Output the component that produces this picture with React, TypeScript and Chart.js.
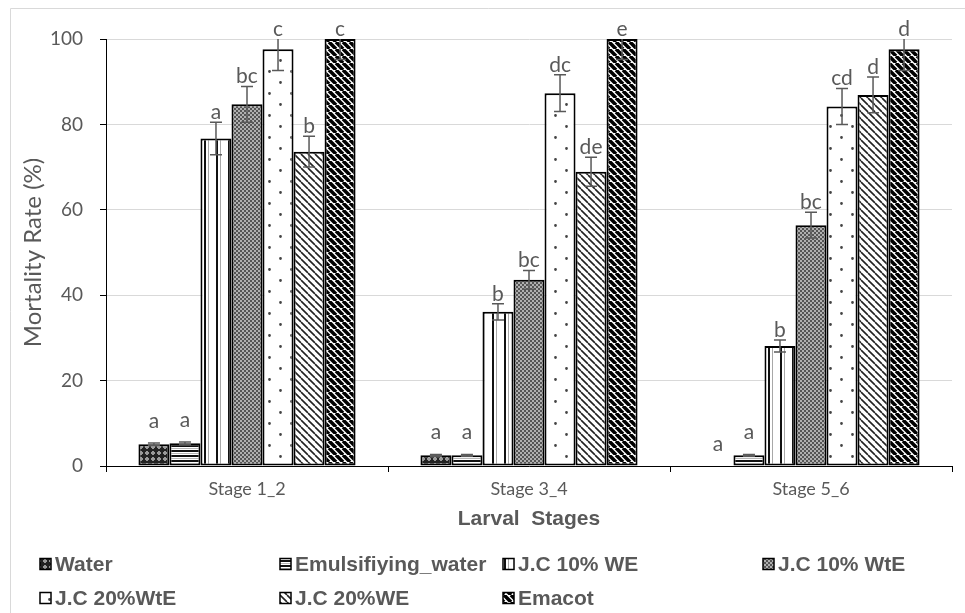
import React, { useEffect, useRef } from 'react';
import { Chart, registerables } from 'chart.js';
Chart.register(...registerables);

const categories = ['Stage 1_2', 'Stage 3_4', 'Stage 5_6'];
const seriesNames = ['Water', 'Emulsifiying_water', 'J.C 10% WE', 'J.C 10% WtE', 'J.C 20%WtE', 'J.C 20%WE', 'Emacot'];

const water = [5.1, 2.5, 0];
const emulsifying = [5.3, 2.5, 2.5];
const jc10WE = [76.7, 36.1, 28.1];
const jc10WtE = [84.7, 43.6, 56.4];
const jc20WtE = [97.6, 87.3, 84.2];
const jc20WE = [73.6, 68.9, 86.9];
const emacot = [100, 100, 97.6];

const waterErr = [0.3, 0.2, 0];
const emulsifyingErr = [0.3, 0.2, 0.2];
const jc10WEErr = [3.8, 1.9, 1.4];
const jc10WtEErr = [4.2, 2.2, 3.0];
const jc20WtEErr = [5.0, 4.3, 4.2];
const jc20WEErr = [3.6, 3.4, 4.2];
const emacotErr = [4.8, 4.8, 5.0];

const waterLetters = ['a', 'a', 'a'];
const emulsifyingLetters = ['a', 'a', 'a'];
const jc10WELetters = ['a', 'b', 'b'];
const jc10WtELetters = ['bc', 'bc', 'bc'];
const jc20WtELetters = ['c', 'dc', 'cd'];
const jc20WELetters = ['b', 'de', 'd'];
const emacotLetters = ['c', 'e', 'd'];

const yTicks = [0, 20, 40, 60, 80, 100];

const seriesValues = [water, emulsifying, jc10WE, jc10WtE, jc20WtE, jc20WE, emacot];
const seriesErrors = [waterErr, emulsifyingErr, jc10WEErr, jc10WtEErr, jc20WtEErr, jc20WEErr, emacotErr];
const seriesLetters = [waterLetters, emulsifyingLetters, jc10WELetters, jc10WtELetters, jc20WtELetters, jc20WELetters, emacotLetters];

const GRAY_TEXT = '#595959';

function tile(w: number, h: number, draw: (g: CanvasRenderingContext2D, w: number, h: number) => void): CanvasPattern {
  const c = document.createElement('canvas');
  c.width = w;
  c.height = h;
  const g = c.getContext('2d')!;
  draw(g, w, h);
  return g.createPattern(c, 'repeat')!;
}

function diagonal(s: number, lw: number, color: string) {
  return tile(s, s, (g) => {
    g.fillStyle = '#fff';
    g.fillRect(0, 0, s, s);
    g.strokeStyle = color;
    g.lineWidth = lw;
    g.beginPath();
    for (const k of [-1, 0, 1]) {
      g.moveTo(k * s, 0);
      g.lineTo(k * s + s, s);
    }
    g.stroke();
  });
}

function makePatterns(): CanvasPattern[] {
  const pWater = tile(6, 6, (g) => {
    g.fillStyle = '#222';
    g.fillRect(0, 0, 6, 6);
    g.fillStyle = '#9a9a9a';
    g.fillRect(2, 1, 2, 4);
    g.fillRect(1, 2, 4, 2);
  });
  const pEmul = tile(4, 5, (g) => {
    g.fillStyle = '#fff';
    g.fillRect(0, 0, 4, 5);
    g.fillStyle = '#111';
    g.fillRect(0, 0, 4, 2);
    g.fillStyle = '#b5b5b5';
    g.fillRect(0, 3, 4, 1);
  });
  const p10WE = tile(12, 4, (g) => {
    g.fillStyle = '#fff';
    g.fillRect(0, 0, 12, 4);
    g.fillStyle = '#111';
    g.fillRect(0, 0, 2, 4);
    g.fillStyle = '#a8a8a8';
    g.fillRect(4, 0, 1, 4);
  });
  const p10WtE = tile(4, 4, (g) => {
    g.fillStyle = '#555';
    g.fillRect(0, 0, 4, 4);
    g.fillStyle = '#b0b0b0';
    g.fillRect(0, 0, 2, 2);
    g.fillRect(2, 2, 2, 2);
  });
  const p20WtE = tile(22, 22, (g) => {
    g.fillStyle = '#fff';
    g.fillRect(0, 0, 22, 22);
    g.fillStyle = '#444';
    g.beginPath();
    g.arc(5.5, 5.5, 1.4, 0, Math.PI * 2);
    g.arc(16.5, 16.5, 1.4, 0, Math.PI * 2);
    g.fill();
  });
  const p20WE = diagonal(7, 1.6, '#222');
  const pEmacot = diagonal(7, 3.6, '#000');
  return [pWater, pEmul, p10WE, p10WtE, p20WtE, p20WE, pEmacot];
}

export default function App() {
  const ref = useRef<HTMLCanvasElement | null>(null);

  useEffect(() => {
    if (!ref.current) return;
    const patterns = makePatterns();

    const overlay = {
      id: 'overlay',
      beforeDraw(chart: any) {
        const ctx = chart.ctx;
        ctx.save();
        ctx.strokeStyle = '#d9d9d9';
        ctx.lineWidth = 1;
        ctx.beginPath();
        ctx.moveTo(10.5, 970);
        ctx.lineTo(10.5, 8.5);
        ctx.lineTo(970, 8.5);
        ctx.stroke();
        ctx.restore();
      },
      afterDatasetsDraw(chart: any) {
        const ctx = chart.ctx;
        const y = chart.scales.y;
        const area = chart.chartArea;
        // error bars (clipped to plot area)
        ctx.save();
        ctx.beginPath();
        ctx.rect(area.left, area.top, area.right - area.left, area.bottom - area.top);
        ctx.clip();
        ctx.strokeStyle = GRAY_TEXT;
        ctx.lineWidth = 1.5;
        seriesValues.forEach((vals, i) => {
          const meta = chart.getDatasetMeta(i);
          vals.forEach((v, j) => {
            const e = seriesErrors[i][j];
            if (!e) return;
            const el = meta.data[j];
            const x = el.x;
            const yt = y.getPixelForValue(v + e);
            const yb = y.getPixelForValue(v - e);
            ctx.beginPath();
            ctx.moveTo(x, yt);
            ctx.lineTo(x, yb);
            ctx.moveTo(x - 6, yt);
            ctx.lineTo(x + 6, yt);
            ctx.moveTo(x - 6, yb);
            ctx.lineTo(x + 6, yb);
            ctx.stroke();
          });
        });
        ctx.restore();

        // letters
        ctx.save();
        ctx.fillStyle = GRAY_TEXT;
        ctx.font = '21px Lato';
        ctx.textAlign = 'center';
        ctx.textBaseline = 'middle';
        seriesValues.forEach((vals, i) => {
          const meta = chart.getDatasetMeta(i);
          vals.forEach((v, j) => {
            const e = seriesErrors[i][j];
            const el = meta.data[j];
            const top = Math.max(y.getPixelForValue(v + e), area.top);
            const ly = v < 10 ? top - 22 : top - 10;
            ctx.fillText(seriesLetters[i][j], el.x, ly);
          });
        });
        ctx.restore();
      },
      afterDraw(chart: any) {
        const ctx = chart.ctx;
        const area = chart.chartArea;
        ctx.save();
        ctx.fillStyle = GRAY_TEXT;
        ctx.font = 'bold 21px "Liberation Sans"';
        ctx.textAlign = 'center';
        ctx.textBaseline = 'middle';
        ctx.fillText('Larval  Stages', (area.left + area.right) / 2, 519);

        // legend
        const cols = [40, 280, 503, 763];
        const rows = [564, 598];
        ctx.textAlign = 'left';
        ctx.font = 'bold 21px "Liberation Sans"';
        seriesNames.forEach((name, i) => {
          const cx = cols[i % 4];
          const cy = rows[Math.floor(i / 4)];
          ctx.fillStyle = patterns[i];
          ctx.fillRect(cx, cy - 5.5, 11, 11);
          ctx.strokeStyle = '#000';
          ctx.lineWidth = 1.5;
          ctx.strokeRect(cx, cy - 5.5, 11, 11);
          ctx.fillStyle = GRAY_TEXT;
          ctx.fillText(name, cx + 15, cy + 1);
        });
        ctx.restore();
      },
    };

    const chart = new Chart(ref.current, {
      type: 'bar',
      data: {
        labels: categories,
        datasets: seriesNames.map((name, i) => ({
          label: name,
          data: seriesValues[i],
          backgroundColor: patterns[i] as any,
          borderColor: '#000',
          borderWidth: 2,
          borderSkipped: false,
          barPercentage: 1,
          categoryPercentage: 0.77,
        })),
      },
      options: {
        responsive: false,
        animation: false,
        devicePixelRatio: 1,
        layout: { padding: { left: 0, top: 39, right: 13, bottom: 0 } },
        plugins: {
          legend: { display: false },
          tooltip: { enabled: false },
          title: { display: false },
        },
        scales: {
          x: {
            grid: { drawOnChartArea: false, drawTicks: true, tickLength: 6, tickColor: '#000', offset: true },
            border: { color: '#000', width: 1 },
            ticks: { color: GRAY_TEXT, font: { family: 'Lato', size: 18 }, padding: 6 },
            afterFit: (s: any) => { s.height = 147; },
          },
          y: {
            min: 0,
            max: 100,
            afterBuildTicks: (s: any) => { s.ticks = yTicks.map((v) => ({ value: v })); },
            grid: { color: '#d9d9d9', lineWidth: 1, tickLength: 6, tickColor: '#000' },
            border: { color: '#000', width: 1 },
            ticks: { color: GRAY_TEXT, font: { family: 'Lato', size: 19 }, padding: 17 },
            title: {
              display: true,
              text: 'Mortality Rate (%)',
              color: GRAY_TEXT,
              font: { family: 'Lato', size: 24 },
              padding: { top: 19, bottom: 0 },
            },
            afterFit: (s: any) => { s.width = 106; },
          },
        },
      },
      plugins: [overlay],
    });
    return () => chart.destroy();
  }, []);

  return (
    <div style={{ position: 'absolute', left: 0, top: 0, width: 965, height: 613, background: '#fff' }}>
      <canvas ref={ref} width={965} height={613} style={{ width: 965, height: 613, display: 'block' }} />
    </div>
  );
}
